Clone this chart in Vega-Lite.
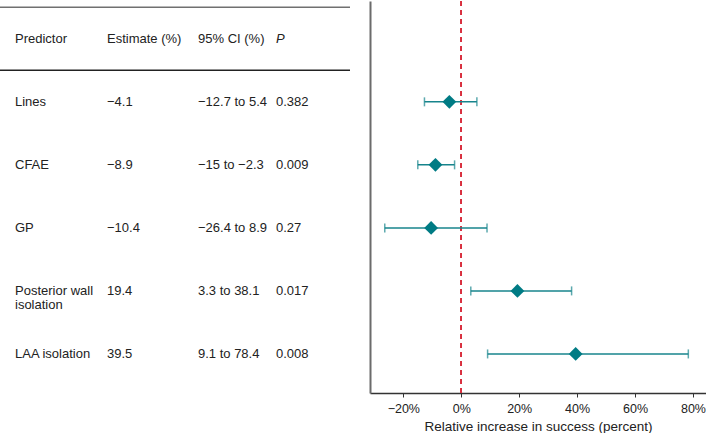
{
  "$schema": "https://vega.github.io/schema/vega-lite/v6.json",
  "padding": 0,
  "spacing": 20,
  "background": "white",
  "config": {
    "view": {"stroke": null},
    "font": "Liberation Sans",
    "text": {"font": "Liberation Sans"}
  },
  "datasets": {
    "effects": [
      {"predictor": "Lines", "row": 1, "estimate": -4.1, "lo": -12.7, "hi": 5.4},
      {"predictor": "CFAE", "row": 2, "estimate": -8.9, "lo": -15, "hi": -2.3},
      {"predictor": "GP", "row": 3, "estimate": -10.4, "lo": -26.4, "hi": 8.9},
      {"predictor": "Posterior wall isolation", "row": 4, "estimate": 19.4, "lo": 3.3, "hi": 38.1},
      {"predictor": "LAA isolation", "row": 5, "estimate": 39.5, "lo": 9.1, "hi": 78.4}
    ],
    "cells": [
      {"row": 0, "col": 0, "text": "Predictor"},
      {"row": 0, "col": 1, "text": "Estimate (%)"},
      {"row": 0, "col": 2, "text": "95% CI (%)"},
      {"row": 0, "col": 3, "text": "P"},
      {"row": 1, "col": 0, "text": "Lines"},
      {"row": 1, "col": 1, "text": "−4.1"},
      {"row": 1, "col": 2, "text": "−12.7 to 5.4"},
      {"row": 1, "col": 3, "text": "0.382"},
      {"row": 2, "col": 0, "text": "CFAE"},
      {"row": 2, "col": 1, "text": "−8.9"},
      {"row": 2, "col": 2, "text": "−15 to −2.3"},
      {"row": 2, "col": 3, "text": "0.009"},
      {"row": 3, "col": 0, "text": "GP"},
      {"row": 3, "col": 1, "text": "−10.4"},
      {"row": 3, "col": 2, "text": "−26.4 to 8.9"},
      {"row": 3, "col": 3, "text": "0.27"},
      {"row": 4, "col": 0, "text": "Posterior wall\nisolation"},
      {"row": 4, "col": 1, "text": "19.4"},
      {"row": 4, "col": 2, "text": "3.3 to 38.1"},
      {"row": 4, "col": 3, "text": "0.017"},
      {"row": 5, "col": 0, "text": "LAA isolation"},
      {"row": 5, "col": 1, "text": "39.5"},
      {"row": 5, "col": 2, "text": "9.1 to 78.4"},
      {"row": 5, "col": 3, "text": "0.008"}
    ]
  },
  "hconcat": [
    {
      "width": 350,
      "height": 392,
      "layer": [
        {
          "data": {"values": [{"line": "top"}]},
          "mark": {"type": "rule", "color": "#707070", "strokeWidth": 1.5, "clip": true},
          "encoding": {"y": {"datum": -0.5, "type": "quantitative", "scale": {"domain": [-0.6, 5.62], "reverse": true, "zero": false, "nice": false}, "axis": null}}
        },
        {
          "data": {"values": [{"line": "header"}]},
          "mark": {"type": "rule", "color": "#222222", "strokeWidth": 1.5, "clip": true},
          "encoding": {"y": {"datum": 0.5, "type": "quantitative"}}
        },
        {
          "data": {"name": "cells"},
          "transform": [{"filter": "datum.text !== 'P'"}],
          "mark": {"type": "text", "align": "left", "baseline": "middle", "fontSize": 13, "color": "#222222", "lineBreak": "\n", "lineHeight": 14.5},
          "encoding": {
            "x": {"field": "col", "type": "quantitative", "scale": {"domain": [0, 1, 2, 3], "range": [15, 107, 198, 276], "zero": false, "nice": false}, "axis": null},
            "y": {"field": "row", "type": "quantitative"},
            "text": {"field": "text", "type": "nominal"}
          }
        },
        {
          "data": {"name": "cells"},
          "transform": [{"filter": "datum.text === 'P'"}],
          "mark": {"type": "text", "align": "left", "baseline": "middle", "fontSize": 13, "fontStyle": "italic", "color": "#222222"},
          "encoding": {
            "x": {"field": "col", "type": "quantitative"},
            "y": {"field": "row", "type": "quantitative"},
            "text": {"field": "text", "type": "nominal"}
          }
        }
      ]
    },
    {
      "width": 336,
      "height": 392,
      "data": {"name": "effects"},
      "layer": [
        {
          "mark": {"type": "rule", "color": "#d9303f", "strokeWidth": 1.5, "strokeDash": [5, 4]},
          "encoding": {
            "x": {"datum": 0, "type": "quantitative",
              "scale": {"domain": [-31.5, 84.5], "zero": false, "nice": false},
              "axis": {
                "values": [-20, 0, 20, 40, 60, 80],
                "labelExpr": "format(datum.value, 'd') + '%'",
                "grid": false,
                "domainColor": "#333333",
                "domainWidth": 1.5,
                "tickColor": "#333333",
                "tickSize": 4,
                "labelFontSize": 12.5,
                "labelColor": "#222222",
                "labelPadding": 5,
                "title": "Relative increase in success (percent)",
                "titleFontSize": 13.5,
                "titleFontWeight": "normal",
                "titleColor": "#222222",
                "titlePadding": 5
              }
            }
          }
        },
        {
          "mark": {"type": "rule", "color": "#17848c", "strokeWidth": 1.5},
          "encoding": {
            "x": {"field": "lo", "type": "quantitative"},
            "x2": {"field": "hi"},
            "y": {"field": "row", "type": "quantitative",
              "scale": {"domain": [-0.6, 5.62], "reverse": true, "zero": false, "nice": false},
              "axis": {"domain": true, "domainColor": "#6b6b6b", "domainWidth": 2, "ticks": false, "labels": false, "grid": false, "title": null}
            }
          }
        },
        {
          "mark": {"type": "tick", "orient": "vertical", "color": "#17848c", "thickness": 1.5, "size": 9},
          "encoding": {
            "x": {"field": "lo", "type": "quantitative"},
            "y": {"field": "row", "type": "quantitative"}
          }
        },
        {
          "mark": {"type": "tick", "orient": "vertical", "color": "#17848c", "thickness": 1.5, "size": 9},
          "encoding": {
            "x": {"field": "hi", "type": "quantitative"},
            "y": {"field": "row", "type": "quantitative"}
          }
        },
        {
          "mark": {"type": "point", "shape": "diamond", "filled": true, "size": 190, "color": "#007b84", "opacity": 1},
          "encoding": {
            "x": {"field": "estimate", "type": "quantitative"},
            "y": {"field": "row", "type": "quantitative"}
          }
        }
      ]
    }
  ]
}
